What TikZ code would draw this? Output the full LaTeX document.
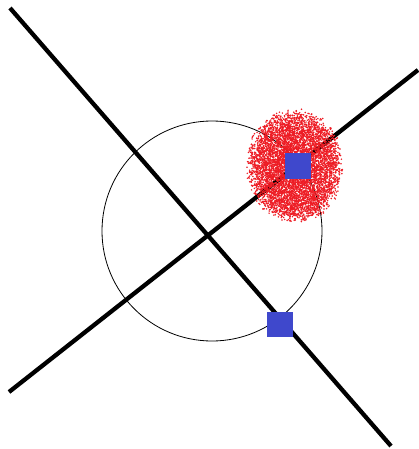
\documentclass[tikz,border=0pt]{standalone}
\definecolor{pred}{RGB}{237,28,36}
\definecolor{pblue}{RGB}{63,72,204}
\begin{document}
\begin{tikzpicture}[x=1pt,y=-1pt,
  bigline/.style={line width=4.3pt,black},
  ring/.style={circle,draw,line width=0.8pt,minimum size=220pt,inner sep=0pt},
  bluesq/.style={fill=pblue,inner sep=0pt,minimum width=26pt,minimum height=25pt}]
\useasboundingbox (0,0) rectangle (418,449);
\coordinate (a1) at (10,8);
\coordinate (a2) at (391,446);
\coordinate (b1) at (9,392);
\coordinate (b2) at (418,70);
\draw[bigline] (a1) -- (a2);
\draw[bigline] (b1) -- (b2);
\node[ring] (c) at (212,231) {};
\pgfmathsetseed{7}
\foreach \i in {1,...,6500}{
  \pgfmathsetmacro\t{rnd*360}
  \pgfmathsetmacro\r{pow(rnd,0.6)*(0.84+0.24*rnd)}
  \fill[pred] ({295+46*\r*cos(\t)},{166+54*\r*sin(\t)}) circle (0.85);
}
\node[bluesq] (s1) at (298,166) {};
\node[bluesq] (s2) at (280,324) {};
\end{tikzpicture}
\end{document}
